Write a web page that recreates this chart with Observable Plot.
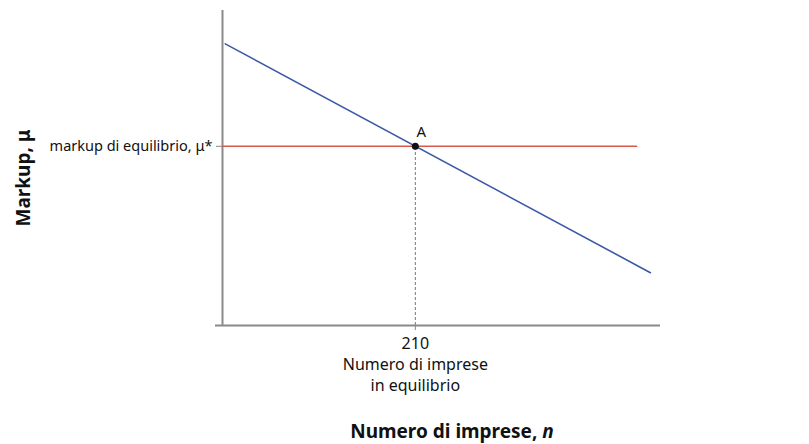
<!DOCTYPE html>
<html>
<head>
<meta charset="utf-8">
<script src="https://cdn.jsdelivr.net/npm/d3@7"></script>
<script src="https://cdn.jsdelivr.net/npm/@observablehq/plot@0.6"></script>
<style>
  html, body { margin: 0; padding: 0; background: #fff; }
  svg { font-family: "Noto Sans", sans-serif; }
</style>
</head>
<body>
<div id="chart"></div>
<script>
// Data (unitless diagram coordinates)
const demandX = [3, 466];
const demandY = [88, 16.5];
const markupX = [0, 451];
const markupStar = 56;
const nStar = 210;
const xTickLabel = "210\nNumero di imprese\nin equilibrio";
const yTickLabel = "markup di equilibrio, μ*";
const pointLabel = "A";
const xTitle = "Numero di imprese, ";
const xTitleVar = "n";
const yTitle = "Markup, μ";

const demand = demandX.map((x, i) => ({x, y: demandY[i]}));
const markupLine = markupX.map(x => ({x, y: markupStar}));

const axisColor = "#8a8a8a";

const chart = Plot.plot({
  width: 809,
  height: 444,
  marginLeft: 222,
  marginRight: 149,
  marginTop: 5,
  marginBottom: 119,
  style: {fontFamily: "Noto Sans, sans-serif", background: "#fff"},
  x: {domain: [0, 477]},
  y: {domain: [0, 100]},
  marks: [
    Plot.ruleX([nStar], {y1: 0, y2: markupStar, stroke: "#777", strokeDasharray: "3,2", strokeWidth: 1}),
    Plot.ruleY([0], {x1: 0, x2: 477, insetLeft: -7, stroke: axisColor, strokeWidth: 2}),
    Plot.ruleX([0], {y1: 0, y2: 100, insetBottom: -5, stroke: axisColor, strokeWidth: 2}),
    Plot.axisX([nStar], {
      label: null,
      tickSize: 5, tickPadding: 4, stroke: axisColor,
      tickFormat: () => xTickLabel, fontSize: 16, lineHeight: 1.3, fill: "#111"
    }),
    Plot.axisY([markupStar], {
      label: null,
      tickSize: 6, tickPadding: 4, stroke: axisColor,
      tickFormat: () => yTickLabel, fontSize: 14.5, fill: "#111"
    }),
    Plot.line(markupLine, {x: "x", y: "y", stroke: "#d9594c", strokeWidth: 1.6}),
    Plot.line(demand, {x: "x", y: "y", stroke: "#3b5aa6", strokeWidth: 1.6}),
    Plot.dot([{x: nStar, y: markupStar}], {x: "x", y: "y", r: 3.5, fill: "#111"}),
    Plot.text([{x: nStar, y: markupStar}], {x: "x", y: "y", text: () => pointLabel, dx: 6, dy: -14, fontSize: 15, fill: "#111"})
  ]
});

const svg = d3.select(chart);
svg.append("text")
  .attr("transform", "translate(30,178) rotate(-90)")
  .attr("text-anchor", "middle")
  .attr("font-size", 19)
  .attr("font-weight", "bold")
  .attr("fill", "#111")
  .text(yTitle);
const xt = svg.append("text")
  .attr("x", 452).attr("y", 438)
  .attr("text-anchor", "middle")
  .attr("font-size", 19)
  .attr("font-weight", "bold")
  .attr("fill", "#111");
xt.append("tspan").text(xTitle);
xt.append("tspan").attr("font-style", "italic").text(xTitleVar);

document.getElementById("chart").appendChild(chart);
</script>
</body>
</html>
